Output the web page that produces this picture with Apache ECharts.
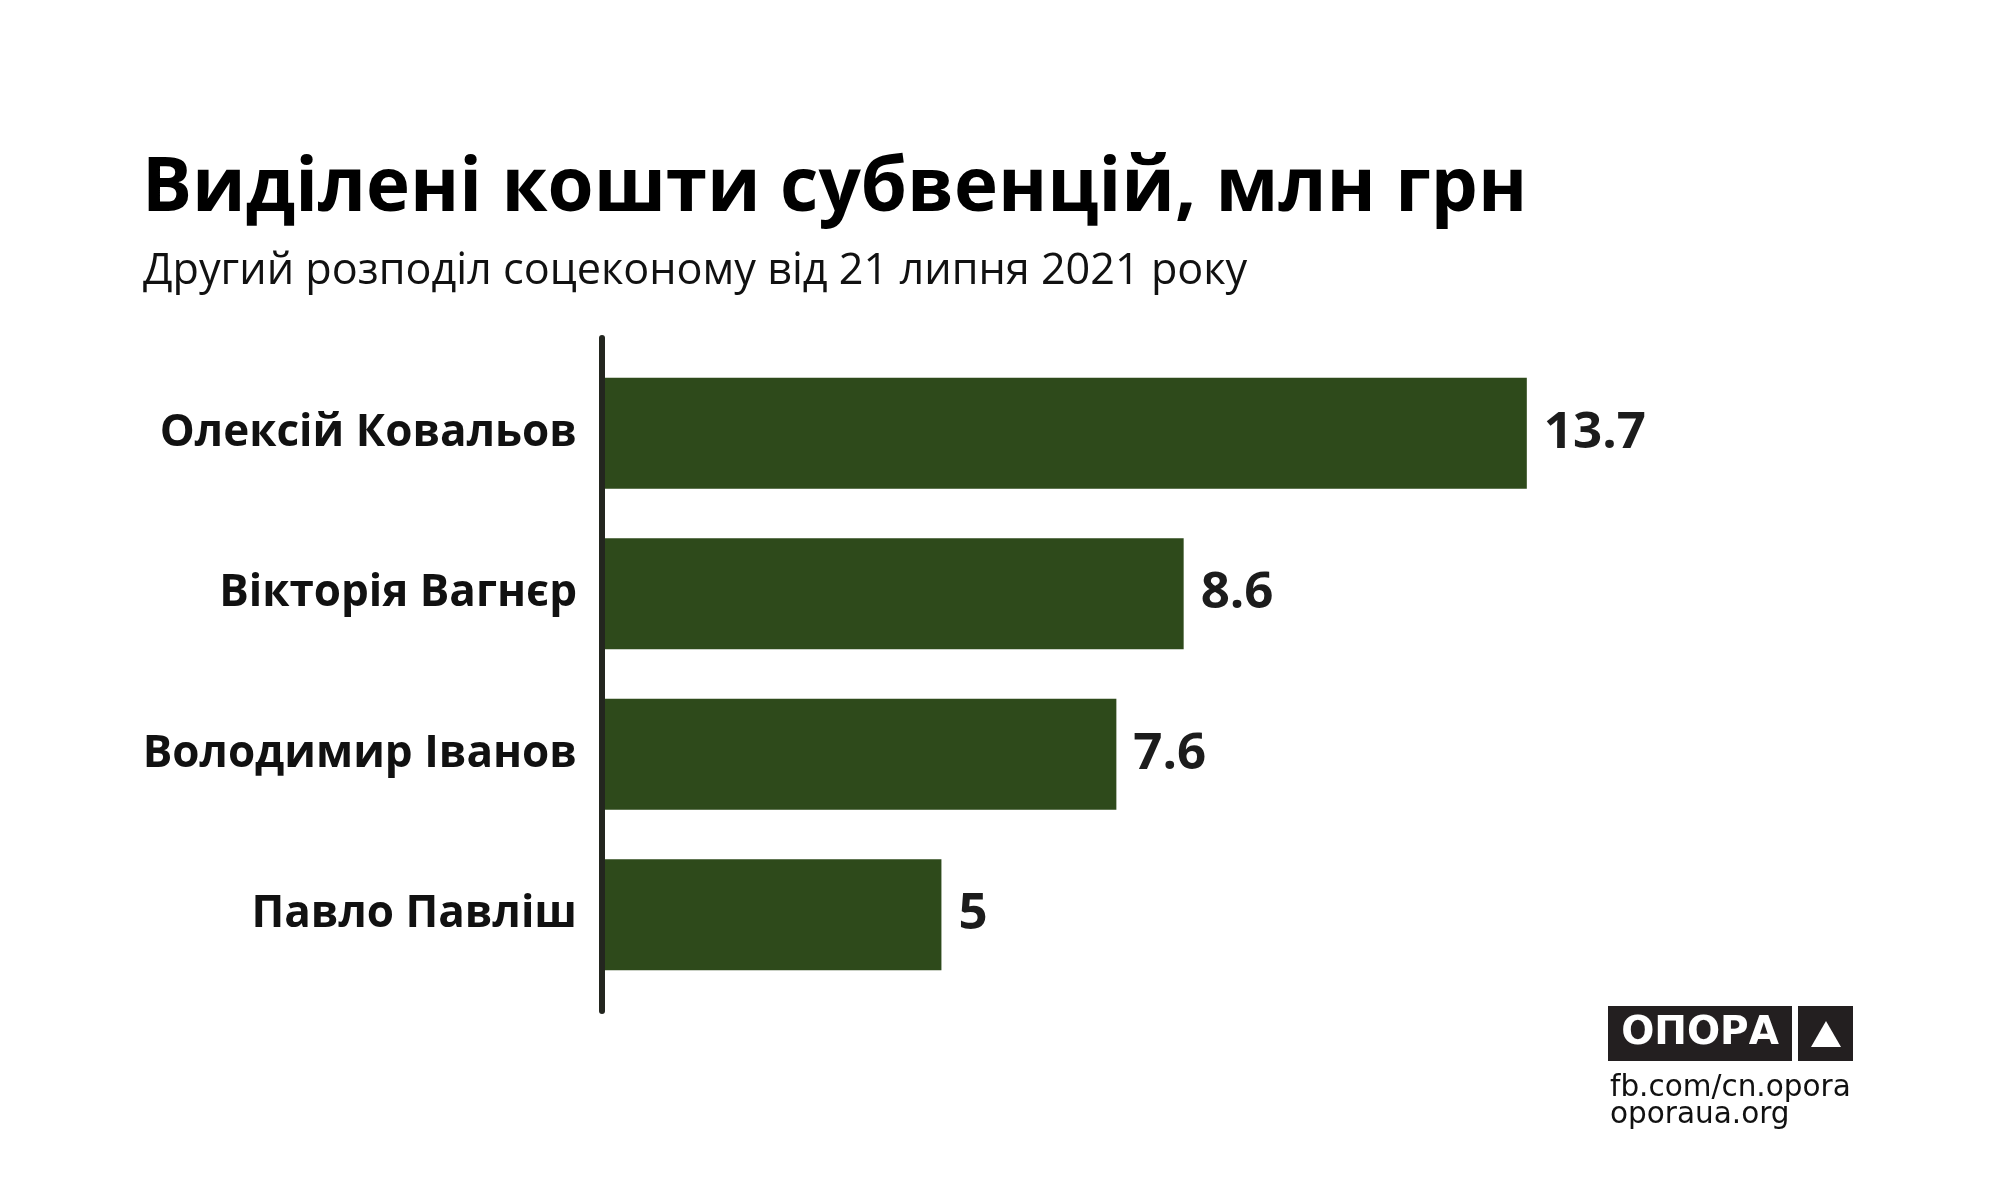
<!DOCTYPE html>
<html>
<head>
<meta charset="utf-8">
<title>Виділені кошти субвенцій</title>
<script src="https://cdn.jsdelivr.net/npm/echarts@6/dist/echarts.min.js"></script>
<style>
  html, body { margin: 0; padding: 0; background: #fff; }
  #chart { width: 2000px; height: 1200px; }
</style>
</head>
<body>
<div id="chart"></div>
<script>
// data
var names = ["Олексій Ковальов", "Вікторія Вагнєр", "Володимир Іванов", "Павло Павліш"];
var values = [13.7, 8.6, 7.6, 5];

var titleText = "Виділені кошти субвенцій, млн грн";
var subText = "Другий розподіл соцеконому від 21 липня 2021 року";
var logoText = "ОПОРА";
var linkLines = ["fb.com/cn.opora", "oporaua.org"];

var font = "'Open Sans', 'Noto Sans', sans-serif";
var logoFont = "'DejaVu Sans', sans-serif";
var barColor = "#2e4a1b";
var inkColor = "#1c1c1c";

var myChart = echarts.init(document.getElementById("chart"));

var option = {
    backgroundColor: "#ffffff",
    animation: false,
    title: [
        {
            text: titleText,
            left: 137, top: 147,
            textStyle: { fontFamily: font, fontWeight: "bold", fontSize: 74.5, color: "#000" }
        },
        {
            text: subText,
            left: 138, top: 245,
            textStyle: { fontFamily: font, fontWeight: "normal", fontSize: 43.2, color: "#111" }
        }
    ],
    grid: [
        // bars
        { left: 605, top: 353, height: 642, width: 942 },
        // only for the vertical axis line
        { left: 602, top: 338, height: 673, width: 10 }
    ],
    xAxis: [
        { gridIndex: 0, type: "value", min: 0, max: 14, show: false },
        { gridIndex: 1, type: "value", min: 0, max: 1, show: false }
    ],
    yAxis: [
        {
            gridIndex: 0,
            type: "category",
            inverse: true,
            data: names,
            axisLine: { show: false },
            axisTick: { show: false },
            axisLabel: {
                margin: 28,
                fontFamily: font,
                fontWeight: "bold",
                fontSize: 44,
                color: "#111",
                padding: [6, 0, 0, 0]
            }
        },
        {
            gridIndex: 1,
            type: "value",
            min: 0, max: 1,
            axisLine: { show: true, lineStyle: { color: "#23261f", width: 6 } },
            axisTick: { show: false },
            axisLabel: { show: false },
            splitLine: { show: false }
        }
    ],
    series: [
        {
            type: "bar",
            xAxisIndex: 0,
            yAxisIndex: 0,
            data: values,
            barWidth: 111,
            itemStyle: { color: barColor },
            label: {
                show: true,
                position: "right",
                distance: 17,
                fontFamily: font,
                fontWeight: "bold",
                fontSize: 51,
                color: inkColor
            }
        }
    ],
    graphic: [
        {
            type: "group",
            left: 1608,
            top: 1006,
            children: [
                { type: "rect", shape: { x: 0, y: 0, width: 184, height: 55 }, style: { fill: "#231f20" } },
                {
                    type: "text", x: 92, y: 28,
                    style: {
                        text: logoText, fill: "#fff",
                        font: "bold 39px " + logoFont,
                        align: "center", verticalAlign: "middle"
                    }
                },
                { type: "rect", shape: { x: 190, y: 0, width: 55, height: 55 }, style: { fill: "#231f20" } },
                { type: "polygon", shape: { points: [[218, 15], [233, 41], [203, 41]] }, style: { fill: "#fff" } },
                {
                    type: "text", x: 2, y: 67,
                    style: { text: linkLines[0], fill: "#111", font: "29.5px " + logoFont }
                },
                {
                    type: "text", x: 2, y: 94,
                    style: { text: linkLines[1], fill: "#111", font: "29.5px " + logoFont }
                }
            ]
        }
    ]
};

myChart.setOption(option);
</script>
</body>
</html>
